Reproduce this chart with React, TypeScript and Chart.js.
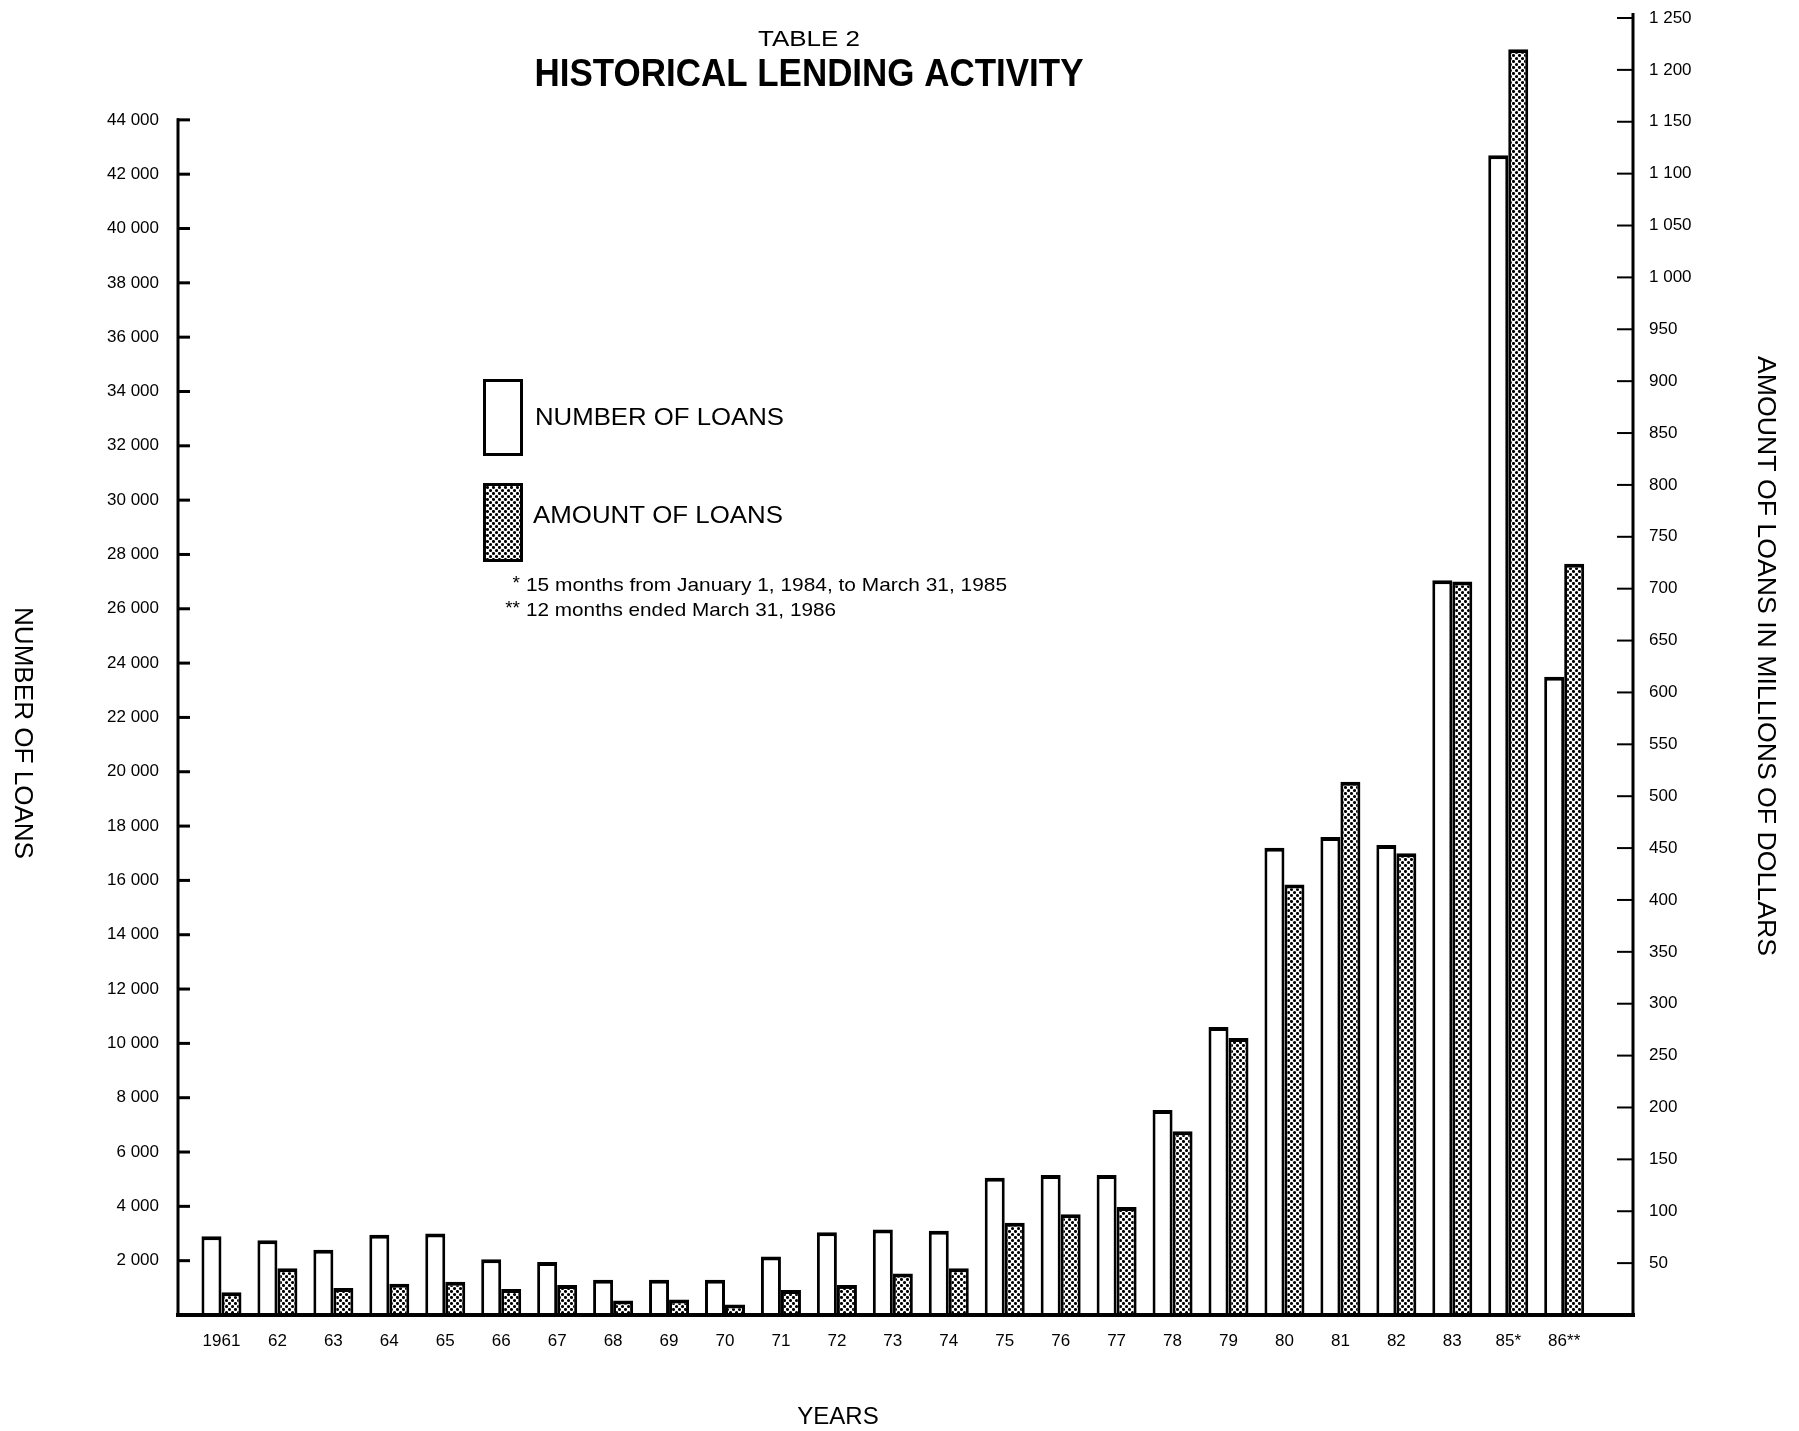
import React, { useEffect, useRef } from "react";
import { Chart, registerables } from "chart.js";

Chart.register(...registerables);

const years = ["1961", "62", "63", "64", "65", "66", "67", "68", "69", "70", "71", "72", "73", "74", "75", "76", "77", "78", "79", "80", "81", "82", "83", "85*", "86**"];
const numberOfLoans = [2900, 2750, 2400, 2950, 3000, 2050, 1950, 1300, 1300, 1300, 2150, 3050, 3150, 3100, 5050, 5150, 5150, 7550, 10600, 17200, 17600, 17300, 27050, 42700, 23500];
const amountOfLoans = [22, 45, 26, 30, 32, 25, 29, 14, 15, 10, 24, 29, 40, 45, 89, 97, 104, 177, 267, 415, 514, 445, 707, 1220, 724];
const leftTicks = [2000, 4000, 6000, 8000, 10000, 12000, 14000, 16000, 18000, 20000, 22000, 24000, 26000, 28000, 30000, 32000, 34000, 36000, 38000, 40000, 42000, 44000];
const rightTicks = [50, 100, 150, 200, 250, 300, 350, 400, 450, 500, 550, 600, 650, 700, 750, 800, 850, 900, 950, 1000, 1050, 1100, 1150, 1200, 1250];

const TITLE_SMALL = "TABLE 2";
const TITLE_BIG = "HISTORICAL LENDING ACTIVITY";
const LEFT_TITLE = "NUMBER OF LOANS";
const RIGHT_TITLE = "AMOUNT OF LOANS IN MILLIONS OF DOLLARS";
const X_TITLE = "YEARS";
const LEGEND_LABELS = ["NUMBER OF LOANS", "AMOUNT OF LOANS"];
const FOOTNOTES = [
  ["*", "15 months from January 1, 1984, to March 31, 1985"],
  ["**", "12 months ended March 31, 1986"],
];

const FONT = "'Liberation Sans', Arial, Helvetica, sans-serif";

function fmt(v: number): string {
  return String(v).replace(/\B(?=(\d{3})+(?!\d))/g, " ");
}

function makePattern(): CanvasPattern | string {
  const tile = document.createElement("canvas");
  tile.width = 6;
  tile.height = 6;
  const c = tile.getContext("2d");
  if (!c) return "#888";
  c.fillStyle = "#fff";
  c.fillRect(0, 0, 6, 6);
  c.fillStyle = "#000";
  c.beginPath();
  c.arc(1.5, 1.5, 1.55, 0, Math.PI * 2);
  c.arc(4.5, 4.5, 1.55, 0, Math.PI * 2);
  c.fill();
  const main = document.createElement("canvas").getContext("2d");
  const p = main ? main.createPattern(tile, "repeat") : null;
  return p || "#888";
}

export default function App() {
  const ref = useRef<HTMLCanvasElement | null>(null);

  useEffect(() => {
    const canvas = ref.current;
    if (!canvas) return;
    const pattern = makePattern();

    const line = (ctx: CanvasRenderingContext2D, x1: number, y1: number, x2: number, y2: number, w: number) => {
      ctx.lineWidth = w;
      ctx.beginPath();
      ctx.moveTo(x1, y1);
      ctx.lineTo(x2, y2);
      ctx.stroke();
    };

    // draw text horizontally scaled to a target width
    const fitText = (
      ctx: CanvasRenderingContext2D,
      text: string,
      x: number,
      y: number,
      font: string,
      width: number,
      align: CanvasTextAlign = "center",
      rotate = 0
    ) => {
      ctx.save();
      ctx.font = font;
      const w = ctx.measureText(text).width;
      ctx.translate(x, y);
      if (rotate) ctx.rotate(rotate);
      ctx.scale(width / w, 1);
      ctx.textAlign = align;
      ctx.textBaseline = "middle";
      ctx.fillText(text, 0, 0);
      ctx.restore();
    };

    const decor = {
      id: "decor",
      afterDraw(chart: any) {
        const ctx: CanvasRenderingContext2D = chart.ctx;
        const a = chart.chartArea;
        const yL = chart.scales.yL;
        const yR = chart.scales.yR;
        ctx.save();
        ctx.strokeStyle = "#000";
        ctx.fillStyle = "#000";
        ctx.lineCap = "butt";

        // left axis
        line(ctx, a.left, a.bottom, a.left, yL.getPixelForValue(leftTicks[leftTicks.length - 1]) - 1.5, 3);
        leftTicks.forEach((v) => {
          const y = yL.getPixelForValue(v);
          line(ctx, a.left - 1, y, a.left + 12, y, 3);
        });
        // right axis
        line(ctx, a.right, a.bottom, a.right, yR.getPixelForValue(rightTicks[rightTicks.length - 1]) - 5, 3);
        rightTicks.forEach((v) => {
          const y = yR.getPixelForValue(v);
          line(ctx, a.right - 16, y, a.right, y, 2);
        });
        // baseline
        line(ctx, a.left - 2, a.bottom, a.right + 2, a.bottom, 4);

        // titles
        fitText(ctx, TITLE_SMALL, 809, 40, `22px ${FONT}`, 102);
        fitText(ctx, TITLE_BIG, 809, 76, `bold 38px ${FONT}`, 549);

        // x title
        ctx.font = `24px ${FONT}`;
        ctx.textAlign = "center";
        ctx.textBaseline = "middle";
        ctx.fillText(X_TITLE, 838, 1417);

        // rotated axis titles
        fitText(ctx, LEFT_TITLE, 22, 733, `25px ${FONT}`, 252, "center", Math.PI / 2);
        fitText(ctx, RIGHT_TITLE, 1765, 656, `25px ${FONT}`, 600, "center", Math.PI / 2);

        // legend boxes
        ctx.fillStyle = "#fff";
        ctx.fillRect(484, 380, 38, 75);
        ctx.lineWidth = 3;
        ctx.strokeRect(484.5, 380.5, 37, 74);
        ctx.fillStyle = pattern as any;
        ctx.fillRect(484, 484, 38, 77);
        ctx.strokeRect(484.5, 484.5, 37, 76);

        ctx.fillStyle = "#000";
        fitText(ctx, LEGEND_LABELS[0], 535, 418, `24px ${FONT}`, 249, "left");
        fitText(ctx, LEGEND_LABELS[1], 533, 516, `24px ${FONT}`, 250, "left");

        // footnotes
        const fnWidths = [481, 310];
        FOOTNOTES.forEach((f, i) => {
          const y = 586 + i * 25;
          ctx.font = `19px ${FONT}`;
          ctx.textAlign = "right";
          ctx.textBaseline = "middle";
          ctx.fillText(f[0], 520, y - 2);
          fitText(ctx, f[1], 526, y, `19px ${FONT}`, fnWidths[i], "left");
        });
        ctx.restore();
      },
    };

    const borders = { top: 4, left: 3, right: 3, bottom: 0 };

    const chart = new Chart(canvas, {
      type: "bar",
      data: {
        datasets: [
          {
            label: LEGEND_LABELS[0],
            data: numberOfLoans.map((v, i) => ({ x: i, y: v })),
            yAxisID: "yL",
            backgroundColor: "#fff",
            borderColor: "#000",
            borderWidth: borders,
            borderSkipped: false,
            categoryPercentage: 0.715,
            barPercentage: 1,
          },
          {
            label: LEGEND_LABELS[1],
            data: amountOfLoans.map((v, i) => ({ x: i, y: v })),
            yAxisID: "yR",
            backgroundColor: pattern as any,
            borderColor: "#000",
            borderWidth: borders,
            borderSkipped: false,
            categoryPercentage: 0.715,
            barPercentage: 1,
          },
        ],
      } as any,
      options: {
        animation: false,
        responsive: false,
        layout: { padding: { top: 18, left: 0, right: 0, bottom: 0 } },
        plugins: { legend: { display: false }, tooltip: { enabled: false } },
        scales: {
          x: {
            type: "linear",
            min: -0.777,
            max: 25.23,
            offset: false,
            grid: { display: false, drawTicks: false, offset: false },
            border: { display: false },
            afterBuildTicks: (s: any) => {
              s.ticks = years.map((_, i) => ({ value: i }));
            },
            afterFit: (s: any) => {
              s.height = 116;
              s.paddingLeft = 0;
              s.paddingRight = 0;
            },
            ticks: {
              autoSkip: false,
              maxRotation: 0,
              minRotation: 0,
              padding: 16,
              color: "#000",
              font: { family: FONT, size: 17 },
              callback: (v: any) => years[v] ?? "",
            },
          },
          yL: {
            type: "linear",
            position: "left",
            min: 0,
            max: 47750,
            grid: { display: false, drawTicks: false },
            border: { display: false },
            afterBuildTicks: (s: any) => {
              s.ticks = leftTicks.map((v) => ({ value: v }));
            },
            afterFit: (s: any) => {
              s.width = 178;
              s.paddingTop = 0;
              s.paddingBottom = 0;
            },
            ticks: {
              padding: 19,
              color: "#000",
              font: { family: FONT, size: 17 },
              callback: (v: any) => fmt(Number(v)),
            },
          },
          yR: {
            type: "linear",
            position: "right",
            min: 0,
            max: 1250,
            grid: { display: false, drawTicks: false },
            border: { display: false },
            afterBuildTicks: (s: any) => {
              s.ticks = rightTicks.map((v) => ({ value: v }));
            },
            afterFit: (s: any) => {
              s.width = 166;
              s.paddingTop = 0;
              s.paddingBottom = 0;
            },
            ticks: {
              padding: 16,
              color: "#000",
              font: { family: FONT, size: 17 },
              callback: (v: any) => fmt(Number(v)),
            },
          },
        },
      } as any,
      plugins: [decor],
    });

    return () => chart.destroy();
  }, []);

  return (
    <div style={{ position: "fixed", left: 0, top: 0, width: 1799, height: 1431, background: "#fff" }}>
      <canvas ref={ref} width={1799} height={1431} style={{ display: "block" }} />
    </div>
  );
}
